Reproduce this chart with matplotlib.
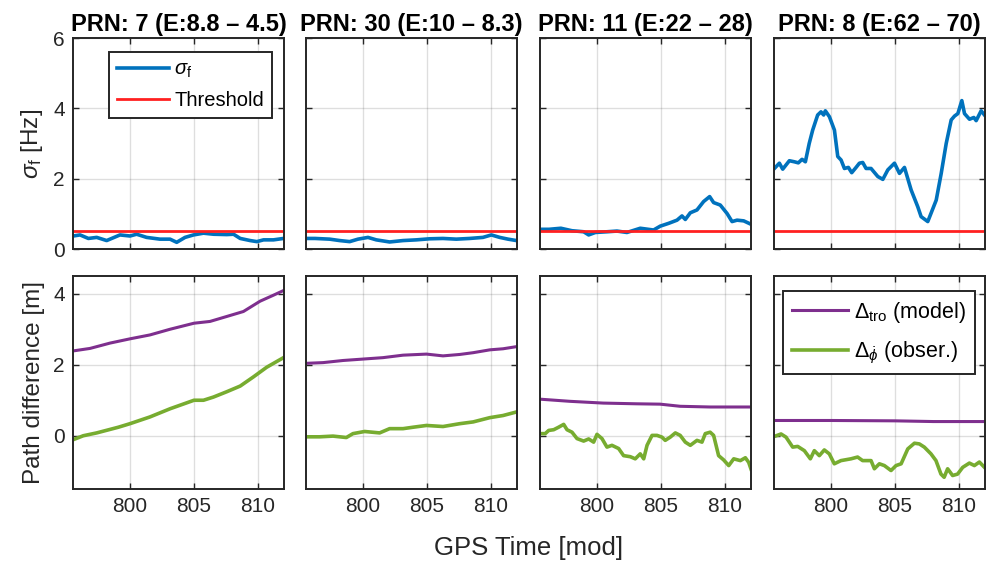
import matplotlib
matplotlib.use('Agg')
import matplotlib.pyplot as plt

plt.rcParams['font.family'] = ['Liberation Sans', 'DejaVu Sans']
plt.rcParams['mathtext.fontset'] = 'custom'
plt.rcParams['mathtext.rm'] = 'Liberation Sans'
plt.rcParams['mathtext.it'] = 'Liberation Sans:italic'
plt.rcParams['mathtext.bf'] = 'Liberation Sans:bold'

# ---------------- data ----------------
titles = ['PRN: 7 (E:8.8 – 4.5)', 'PRN: 30 (E:10 – 8.3)',
          'PRN: 11 (E:22 – 28)', 'PRN: 8 (E:62 – 70)']
threshold = 0.5
x_ticks = [800, 805, 810]
x_limits = [795.55, 812.03]

# sigma_f per satellite (time, value)
sig1_t = [795.57, 796.1, 796.75, 797.4, 798.18, 799.22, 800.0, 800.52, 801.3, 802.34, 803.13,
          803.65, 804.3, 804.96, 805.74, 806.52, 807.56, 808.09, 808.61, 809.39, 809.91,
          810.43, 811.21, 811.99]
sig1_v = [0.37, 0.40, 0.30, 0.33, 0.24, 0.40, 0.37, 0.42, 0.33, 0.28, 0.28,
          0.19, 0.33, 0.40, 0.45, 0.42, 0.41, 0.42, 0.30, 0.24, 0.21,
          0.26, 0.26, 0.30]

sig2_t = [795.57, 796.26, 797.4, 798.18, 798.96, 799.61, 800.39, 801.04, 802.08, 803.13,
          804.17, 805.2, 806.25, 807.29, 808.33, 809.37, 810.03, 810.68, 811.33, 811.99]
sig2_v = [0.30, 0.30, 0.28, 0.24, 0.21, 0.28, 0.33, 0.26, 0.20, 0.24,
          0.26, 0.29, 0.30, 0.28, 0.30, 0.33, 0.40, 0.33, 0.28, 0.24]

sig3_t = [795.57, 796.26, 797.18, 798.04, 798.96, 799.35, 799.87, 800.78, 801.56, 802.34,
          803.38, 804.42, 804.94, 805.6, 806.25, 806.64, 806.9, 807.29, 807.81, 808.33,
          808.8, 809.11, 809.63, 810.16, 810.55, 810.94, 811.46, 811.99]
sig3_v = [0.56, 0.56, 0.59, 0.52, 0.49, 0.40, 0.47, 0.49, 0.51, 0.47,
          0.59, 0.54, 0.65, 0.73, 0.82, 0.94, 0.84, 1.03, 1.11, 1.35,
          1.49, 1.32, 1.25, 1.01, 0.78, 0.82, 0.80, 0.71]

sig4_t = [795.58, 795.97, 796.23, 796.75, 797.14, 797.45, 797.74, 798.0, 798.3, 798.57,
          798.96, 799.22, 799.43, 799.56, 799.88, 800.27, 800.53, 800.79, 801.05, 801.36,
          801.62, 801.96, 802.22, 802.48, 802.74, 803.13, 803.66, 804.05, 804.44, 804.96,
          805.35, 805.74, 806.26, 806.78, 807.04, 807.56, 807.82, 808.22, 808.61, 809.0,
          809.39, 809.65, 809.91, 810.22, 810.43, 810.82, 811.16, 811.34, 811.73, 811.99]
sig4_v = [2.29, 2.44, 2.27, 2.51, 2.48, 2.45, 2.55, 2.48, 3.00, 3.38,
          3.81, 3.90, 3.81, 3.93, 3.76, 3.38, 2.63, 2.53, 2.29, 2.32,
          2.17, 2.32, 2.44, 2.46, 2.29, 2.29, 2.06, 1.98, 2.25, 2.44,
          2.15, 2.32, 1.68, 1.20, 0.92, 0.78, 1.02, 1.39, 2.15, 3.00,
          3.67, 3.78, 3.85, 4.22, 3.85, 3.69, 3.74, 3.65, 3.93, 3.81]

# tropospheric model path difference
tro1_t = [795.57, 796.88, 798.44, 800.0, 801.56, 803.13, 805.0, 806.25, 807.56, 808.86,
          810.16, 811.21, 811.99]
tro1_v = [2.39, 2.46, 2.61, 2.73, 2.84, 3.00, 3.17, 3.22, 3.36, 3.50, 3.79, 3.96, 4.09]

tro2_t = [795.57, 796.88, 798.44, 800.0, 801.56, 803.13, 804.96, 806.25, 807.56, 808.61,
          809.91, 810.94, 811.99]
tro2_v = [2.04, 2.06, 2.12, 2.16, 2.20, 2.27, 2.30, 2.25, 2.29, 2.34, 2.42, 2.45, 2.51]

tro3_t = [795.57, 797.88, 800.49, 803.1, 804.93, 806.5, 808.84, 811.99]
tro3_v = [1.03, 0.97, 0.92, 0.90, 0.89, 0.83, 0.81, 0.81]

tro4_t = [795.57, 800.0, 805.0, 808.0, 811.99]
tro4_v = [0.43, 0.43, 0.42, 0.40, 0.40]

# observed path difference
phi1_t = [795.57, 796.35, 797.4, 799.09, 800.0, 801.56, 803.13, 805.0, 805.74, 806.52,
          807.56, 808.61, 809.65, 810.68, 811.99]
phi1_v = [-0.11, 0.00, 0.08, 0.24, 0.34, 0.53, 0.76, 1.00, 1.00, 1.09,
          1.24, 1.40, 1.66, 1.93, 2.20]

phi2_t = [795.57, 796.62, 797.66, 798.7, 799.22, 800.13, 801.3, 802.08, 803.13, 803.91,
          804.96, 806.25, 807.56, 808.61, 809.91, 810.94, 811.99]
phi2_v = [-0.03, -0.03, -0.01, -0.05, 0.06, 0.12, 0.08, 0.20, 0.20, 0.24,
          0.29, 0.26, 0.34, 0.39, 0.51, 0.57, 0.67]

phi3_t = [795.57, 795.96, 796.23, 796.62, 797.0, 797.4, 797.66, 798.05, 798.44, 798.96,
          799.35, 799.74, 800.0, 800.39, 800.78, 801.17, 801.69, 802.08, 802.6, 802.99,
          803.38, 803.65, 803.91, 804.3, 804.69, 805.08, 805.33, 805.72, 806.12, 806.5,
          806.9, 807.29, 807.81, 808.2, 808.46, 808.84, 809.11, 809.5, 809.89, 810.29,
          810.68, 811.2, 811.59, 811.85, 812.03]
phi3_v = [0.06, 0.06, 0.15, 0.17, 0.24, 0.32, 0.17, 0.10, -0.08, -0.15,
          -0.09, -0.18, 0.04, -0.08, -0.32, -0.27, -0.36, -0.56, -0.59, -0.65,
          -0.51, -0.65, -0.27, 0.01, 0.01, -0.04, -0.13, -0.04, 0.08, 0.01,
          -0.18, -0.27, -0.13, -0.18, 0.06, 0.10, 0.01, -0.56, -0.68, -0.84,
          -0.65, -0.70, -0.62, -0.75, -0.94]

phi4_t = [795.57, 796.1, 796.49, 797.01, 797.4, 797.92, 798.39, 798.7, 799.09, 799.48,
          799.87, 800.26, 800.78, 801.56, 802.08, 802.47, 803.13, 803.39, 803.78, 804.17,
          804.69, 805.08, 805.48, 806.0, 806.52, 806.9, 807.29, 807.81, 808.2, 808.59,
          808.84, 809.11, 809.5, 809.89, 810.29, 810.81, 811.2, 811.59, 811.99]
phi4_v = [-0.02, 0.05, -0.04, -0.32, -0.30, -0.42, -0.65, -0.42, -0.56, -0.40,
          -0.51, -0.79, -0.70, -0.65, -0.60, -0.70, -0.70, -0.93, -0.79, -0.84,
          -0.98, -0.84, -0.79, -0.37, -0.21, -0.23, -0.32, -0.51, -0.70, -1.08,
          -1.17, -0.93, -1.12, -1.08, -0.89, -0.77, -0.84, -0.74, -0.89]

sig_t = [sig1_t, sig2_t, sig3_t, sig4_t]
sig_v = [sig1_v, sig2_v, sig3_v, sig4_v]
tro_t = [tro1_t, tro2_t, tro3_t, tro4_t]
tro_v = [tro1_v, tro2_v, tro3_v, tro4_v]
phi_t = [phi1_t, phi2_t, phi3_t, phi4_t]
phi_v = [phi1_v, phi2_v, phi3_v, phi4_v]

# ---------------- style ----------------
BLUE = '#0072BD'
RED = '#FF2020'
PURPLE = '#7E2F8E'
GREEN = '#77AC30'
AX_COL = '#262626'

W, H = 990, 565
fig = plt.figure(figsize=(W / 100, H / 100), dpi=100)

lefts = [73, 306, 540, 774]
aw = 211


def style(ax):
    for s in ax.spines.values():
        s.set_color(AX_COL)
        s.set_linewidth(1.4)
    ax.tick_params(direction='in', length=4, width=1.0, color=AX_COL,
                   labelcolor=AX_COL, labelsize=15, top=True, right=True, pad=6)
    ax.grid(True, color='#262626', alpha=0.15, linewidth=1.0)
    ax.set_axisbelow(True)


for i in range(4):
    # top row
    ax = fig.add_axes([lefts[i] / W, 1 - 249 / H, aw / W, 211 / H])
    style(ax)
    l1, = ax.plot(sig_t[i], sig_v[i], color=BLUE, lw=2.6, label=r'$\sigma_{\mathrm{f}}$')
    l2 = ax.axhline(threshold, color=RED, lw=2.0, label='Threshold')
    ax.set_xlim(*x_limits)
    ax.set_ylim(0, 6)
    ax.set_xticks(x_ticks)
    ax.set_xticklabels([])
    ax.set_yticks([0, 2, 4, 6])
    if i == 0:
        ax.set_ylabel(r'$\sigma_{\mathrm{f}}$ [Hz]', fontsize=17.5, color=AX_COL, labelpad=6)
        leg = ax.legend(handles=[l1, l2], loc='upper left', bbox_to_anchor=(0.17, 0.935),
                        borderaxespad=0, fontsize=14.5, handlelength=2.6, handletextpad=0.25,
                        fancybox=False, framealpha=1, edgecolor=AX_COL,
                        borderpad=0.4, labelspacing=0.55)
        leg.get_frame().set_linewidth(1.4)
    else:
        ax.set_yticklabels([])
    ax.set_title(titles[i], fontsize=17, fontweight='bold', pad=5)

    # bottom row
    bx = fig.add_axes([lefts[i] / W, 1 - 489 / H, aw / W, 213 / H])
    style(bx)
    m1, = bx.plot(tro_t[i], tro_v[i], color=PURPLE, lw=2.2, label=r'$\Delta_{\mathrm{tro}}$ (model)')
    m2, = bx.plot(phi_t[i], phi_v[i], color=GREEN, lw=2.6, label=r'$\Delta_{\dot{\phi}}$ (obser.)')
    bx.set_xlim(*x_limits)
    bx.set_ylim(-1.5, 4.5)
    bx.set_xticks(x_ticks)
    bx.set_yticks([0, 2, 4])
    if i == 0:
        bx.set_ylabel('Path difference [m]', fontsize=17.5, color=AX_COL, labelpad=6)
    else:
        bx.set_yticklabels([])
    if i == 3:
        leg2 = bx.legend(handles=[m1, m2], loc='upper right', bbox_to_anchor=(0.953, 0.93),
                         borderaxespad=0, fontsize=15.5, handlelength=2.6, handletextpad=0.3,
                         fancybox=False, framealpha=1, edgecolor=AX_COL,
                         borderpad=0.4, labelspacing=0.7)
        leg2.get_frame().set_linewidth(1.4)

fig.text(529 / W, 1 - 548 / H, 'GPS Time [mod]', fontsize=18.5, color=AX_COL,
         ha='center', va='center')

fig.savefig('out.png', dpi=100)
